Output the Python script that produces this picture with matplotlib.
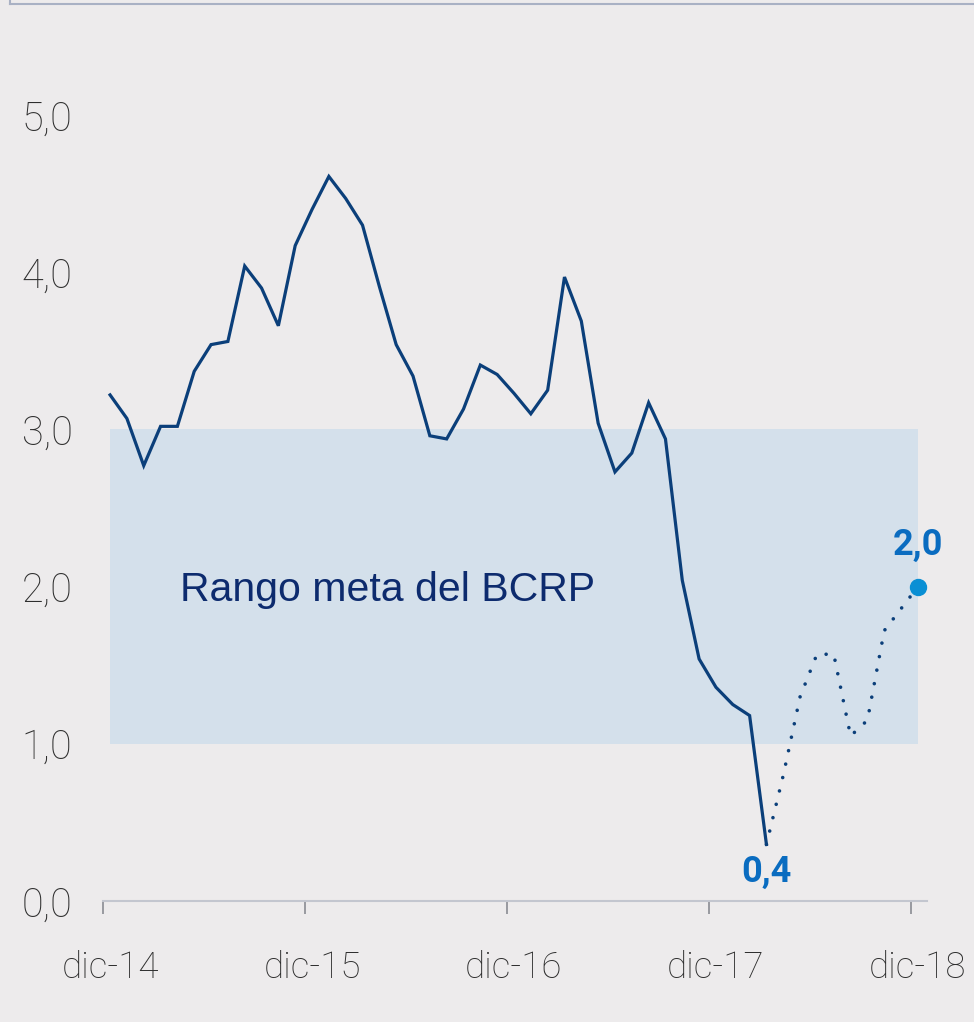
import matplotlib
matplotlib.use("Agg")
import matplotlib.pyplot as plt
from matplotlib.lines import Line2D
from matplotlib.ticker import FixedLocator

# Observed annual inflation, monthly, dic-14 .. mar-18
observed = [3.22, 3.07, 2.77, 3.02, 3.02, 3.37, 3.54, 3.56, 4.04, 3.90, 3.66, 4.17,
            4.40, 4.61, 4.47, 4.30, 3.91, 3.54, 3.34, 2.96, 2.94, 3.13, 3.41, 3.35,
            3.23, 3.10, 3.25, 3.97, 3.69, 3.04, 2.73, 2.85, 3.17, 2.94, 2.04, 1.54,
            1.36, 1.25, 1.18, 0.36]
# Projection, mar-18 .. dic-18
projection = [0.36, 0.80, 1.30, 1.57, 1.57, 1.05, 1.15, 1.72, 1.86, 2.00]
target_low, target_high = 1.0, 3.0
xtick_labels = ["dic-14", "dic-15", "dic-16", "dic-17", "dic-18"]
ytick_values = [0, 1, 2, 3, 4, 5]
band_label = "Rango meta del BCRP"
first_label = "0,4"
last_label = "2,0"

BG = "#edebec"
LINE = "#0b3f7a"
BAND = "#d4e0eb"
LABEL_BLUE = "#0a6cc0"
DOT = "#0a8fd4"

fig = plt.figure(figsize=(9.74, 10.22), dpi=100, facecolor=BG)
ax = fig.add_axes([103/974, 121/1022, 824/974, 833/1022], facecolor=BG)

off = 0.42
n_obs = len(observed)
x_obs = [i + off for i in range(n_obs)]
x_proj = [n_obs - 1 + i + off for i in range(len(projection))]

ax.fill_between([x_obs[0], x_proj[-1]], target_low, target_high, color=BAND, lw=0, zorder=1)

ax.plot(x_obs, observed, color=LINE, lw=2.3, solid_joinstyle="miter", zorder=3)
ax.plot(x_proj, projection, color=LINE, lw=2.6, linestyle=(0, (0.01, 3.8)),
        dash_capstyle="round", solid_joinstyle="round", zorder=3)
ax.plot([x_proj[-1]], [projection[-1]], "o", color=DOT, ms=11.5, zorder=4)

ax.text(x_obs[-1], observed[-1] - 0.06, first_label, color=LABEL_BLUE, fontsize=26,
        fontweight="bold", ha="center", va="top", family="Roboto")
ax.text(x_proj[-1], projection[-1] + 0.15, last_label, color=LABEL_BLUE, fontsize=26,
        fontweight="bold", ha="center", va="bottom", family="Roboto")
ax.text(4.55, 1.98, band_label, color="#0d2b6e", fontsize=29.5, ha="left", va="center",
        family="Liberation Sans")

ax.set_xlim(0, 48.96)
ax.set_ylim(0, 5.3)

for s in ["left", "right", "top"]:
    ax.spines[s].set_visible(False)
ax.spines["bottom"].set_color("#c3c6cf")
ax.spines["bottom"].set_linewidth(1.5)

ax.xaxis.set_major_locator(FixedLocator([0, 12, 24, 36, 48]))
ax.xaxis.set_minor_locator(FixedLocator([12 * i + off for i in range(len(xtick_labels))]))
ax.set_xticklabels([], minor=False)
ax.set_xticklabels(xtick_labels, minor=True)
ax.tick_params(axis="x", which="major", direction="out", length=9, width=1.2, color="#8a8c92")
ax.tick_params(axis="x", which="minor", length=0, pad=35, labelsize=26.5, labelcolor="#2e2e2e")

ax.set_yticks(ytick_values)
ax.set_yticklabels([f"{v:.1f}".replace(".", ",") for v in ytick_values])
ax.tick_params(axis="y", length=0, pad=22, labelsize=28.5, labelcolor="#2e2e2e")
for lab in ax.get_xticklabels(minor=True) + ax.get_yticklabels():
    lab.set_family("Roboto")
    lab.set_fontweight("light")

# partial frame at top
fig.add_artist(Line2D([10/974, 1.0], [1 - 4/1022, 1 - 4/1022], color="#a9b1c4", lw=1.5))
fig.add_artist(Line2D([10/974, 10/974], [1 - 4/1022, 1.0], color="#a9b1c4", lw=1.5))

fig.savefig("out.png", dpi=100, facecolor=BG)
